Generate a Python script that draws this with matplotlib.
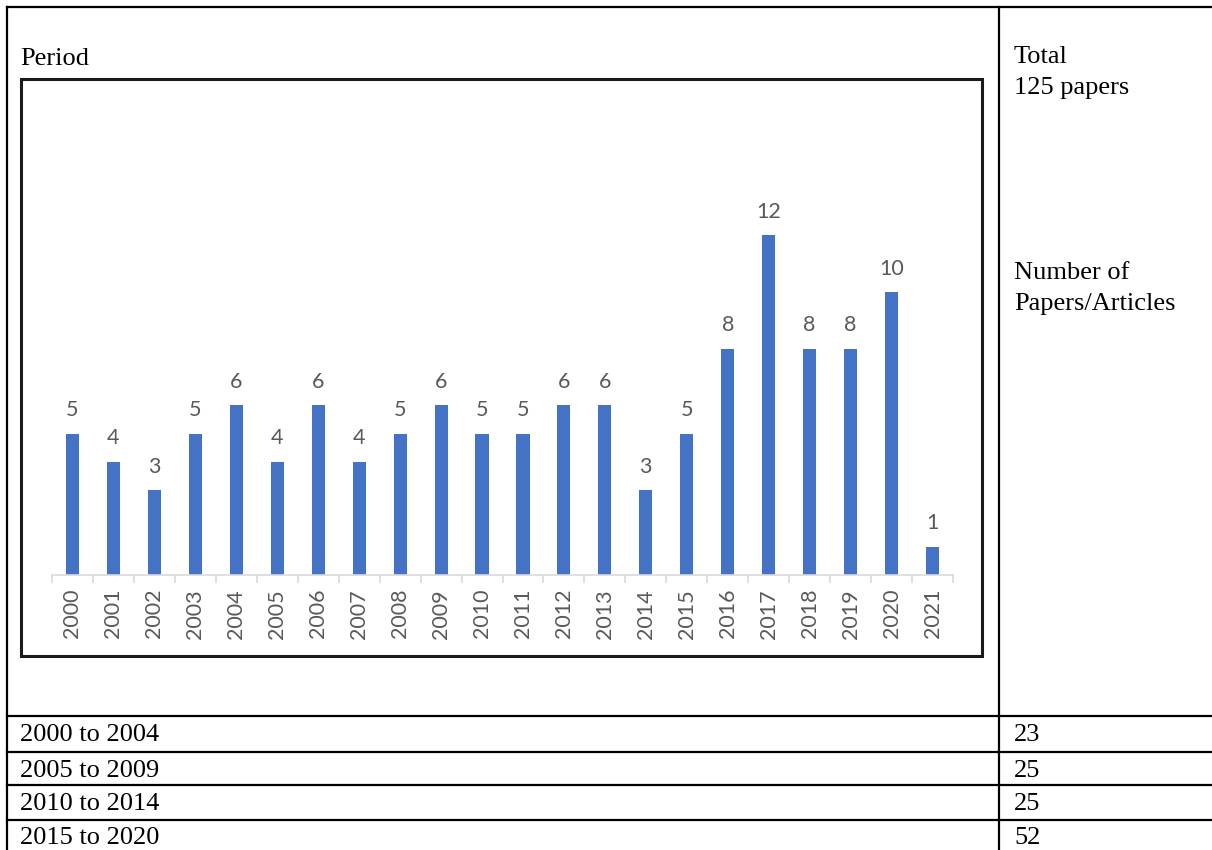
import matplotlib

matplotlib.use("Agg")
import matplotlib.pyplot as plt
from matplotlib.patches import Rectangle

# yearly counts shown in the bar chart
YEARS = [str(y) for y in range(2000, 2022)]
PAPERS = [5, 4, 3, 5, 6, 4, 6, 4, 5, 6, 5, 5, 6, 6, 3, 5, 8, 12, 8, 8, 10, 1]

# period summary rows of the table
PERIODS = ["2000 to 2004", "2005 to 2009", "2010 to 2014", "2015 to 2020"]
PERIOD_TOTALS = ["23", "25", "25", "52"]

W, H = 1212, 850
SERIF = "Liberation Serif"
SANS = "Lato"
GRAY = "#595959"
BLUE = "#4472c4"

fig = plt.figure(figsize=(W / 100, H / 100), dpi=100)

# overlay in pixel coordinates for the table frame and text
bg = fig.add_axes([0, 0, 1, 1])
bg.set_xlim(0, W)
bg.set_ylim(H, 0)
bg.axis("off")

lw = 1.6
bg.plot([7, 7], [7, H], color="black", lw=lw)
bg.plot([7, W], [7, 7], color="black", lw=lw)
bg.plot([999, 999], [7, H], color="black", lw=lw)
for y in (715.5, 751.5, 784.5, 819.5):
    bg.plot([7, W], [y, y], color="black", lw=lw)

bg.add_patch(Rectangle((21, 79), 961, 577, fill=False, ec="#1a1a1a", lw=2.2))

tkw = dict(family=SERIF, fontsize=19, color="black", va="baseline")
bg.text(20, 65, "Period", **tkw)
bg.text(1014, 63, "Total", **tkw)
bg.text(1014, 94, "125 papers", **tkw)
bg.text(1014, 279, "Number of", **tkw)
bg.text(1014, 310, "Papers/Articles", **tkw)
for y, label, total in zip((741, 777, 810, 844), PERIODS, PERIOD_TOTALS):
    bg.text(20, y, label, **tkw)
    bg.text(1014, y, total, **tkw)

# bar chart
left, right, base = 52, 953, 575
unit = 28.3
ymax = 14
ax = fig.add_axes(
    [left / W, (H - base) / H, (right - left) / W, ymax * unit / H]
)
ax.patch.set_alpha(0)
x = range(len(YEARS))
bars = ax.bar(x, PAPERS, width=0.32, color=BLUE)
for rect, v in zip(bars, PAPERS):
    ax.annotate(
        str(v),
        (rect.get_x() + rect.get_width() / 2, v),
        xytext=(0, 12.5),
        textcoords="offset points",
        ha="center",
        va="baseline",
        family=SANS,
        fontsize=15.5,
        color=GRAY,
    )
ax.set_xlim(-0.5, len(YEARS) - 0.5)
ax.set_ylim(0, ymax)
for side in ("top", "right", "left"):
    ax.spines[side].set_visible(False)
ax.spines["bottom"].set_color("#d9d9d9")
ax.spines["bottom"].set_linewidth(1.2)
ax.set_yticks([])
ax.set_xticks(list(x))
ax.set_xticklabels(YEARS, rotation=90, family=SANS, fontsize=15.5, color=GRAY)
ax.tick_params(axis="x", which="major", length=0, pad=10)
ax.set_xticks([i - 0.5 for i in range(len(YEARS) + 1)], minor=True)
ax.tick_params(axis="x", which="minor", length=6, color="#d9d9d9", width=1.2)

fig.savefig("out.png", dpi=100)
